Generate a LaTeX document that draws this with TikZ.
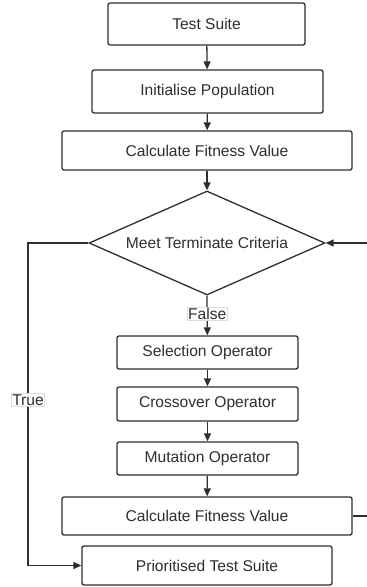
\documentclass[tikz,border=0pt]{standalone}
\usepackage{fontspec}
\setmainfont{Liberation Sans}
\usetikzlibrary{shapes.geometric,arrows.meta}
\definecolor{ink}{HTML}{2E2E2E}
\definecolor{lblframe}{HTML}{DDDDDD}
\tikzset{
  box/.style={draw=ink, line width=1.3pt, rounded corners=2pt, fill=white, inner sep=0pt, text=ink, font=\fontsize{15.6}{18}\selectfont},
  dec/.style={draw=ink, line width=1.3pt, diamond, shape aspect=2.27, minimum width=236pt, minimum height=104pt, inner sep=0pt, text=ink, font=\fontsize{15.6}{18}\selectfont},
  conn/.style={draw=ink, line width=1.3pt, -{Triangle[length=8pt,width=7pt]}},
  plain/.style={draw=ink, line width=1.3pt},
  lbl/.style={draw=lblframe, line width=0.5pt, fill=white, inner sep=1pt, text=ink, font=\fontsize{15.6}{18}\selectfont}
}
\begin{document}
\begin{tikzpicture}[x=1pt,y=-1pt]
\useasboundingbox (0,0) rectangle (367,587);
\node[box, minimum width=197pt, minimum height=42pt] (ts) at (206.5,24) {Test Suite};
\node[box, minimum width=231pt, minimum height=43pt] (ip) at (207.5,91.5) {Initialise Population};
\node[box, minimum width=290pt, minimum height=39pt] (cf1) at (207,150.5) {Calculate Fitness Value};
\node[dec] (d) at (207,243) {Meet Terminate Criteria};
\node[box, minimum width=181pt, minimum height=33pt] (so) at (207.5,352.5) {Selection Operator};
\node[box, minimum width=181pt, minimum height=34pt] (co) at (207.5,404) {Crossover Operator};
\node[box, minimum width=181pt, minimum height=33pt] (mo) at (207.5,458.5) {Mutation Operator};
\node[box, minimum width=290pt, minimum height=38pt] (cf2) at (207,516) {Calculate Fitness Value};
\node[box, minimum width=250pt, minimum height=39pt] (pts) at (207,565.5) {Prioritised Test Suite};
\coordinate (lx) at (28,243);
\coordinate (rt) at (370,516);
\coordinate (rb) at (370,243);
\path[conn] (ts) -- (ip);
\path[conn] (ip) -- (cf1);
\path[conn] (cf1) -- (d.north);
\path[conn] (d.south) -- node[lbl, pos=0.46] (fl) {False} (so);
\path[conn] (so) -- (co);
\path[conn] (co) -- (mo);
\path[conn] (mo) -- (cf2);
\path[conn] (d.west) -- (lx) |- (pts.west);
\node[lbl] (tl) at (28,400) {True};
\path[plain] (cf2.east) -- (rt) -- (rb);
\path[conn] (rb) -- (d.east);
\end{tikzpicture}
\end{document}
